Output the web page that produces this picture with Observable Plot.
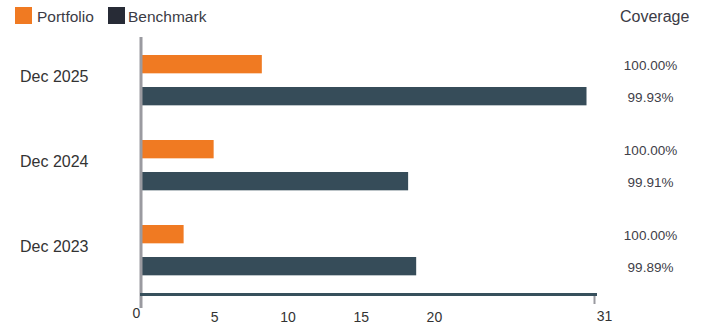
<!DOCTYPE html>
<html><head><meta charset="utf-8">
<script src="https://cdn.jsdelivr.net/npm/d3@7"></script>
<script src="https://cdn.jsdelivr.net/npm/@observablehq/plot@0.6"></script>
<style>
body{margin:0;background:#fff;font-family:"Liberation Sans",Arial,sans-serif;}
#wrap{position:relative;width:707px;height:330px;overflow:hidden;}
#header{position:relative;height:30px;width:707px;}
.sw{position:absolute;top:7px;width:17px;height:17px;}
.lt{position:absolute;top:8px;font-size:15.5px;line-height:18px;color:#3b3b45;white-space:nowrap;}
#chart svg{display:block;}
</style></head><body>
<div id="wrap">
<div id="header"></div>
<div id="chart"></div>
</div>
<script>
const seriesNames = ["Portfolio", "Benchmark"];
const periods = ["Dec 2025", "Dec 2024", "Dec 2023"];
const portfolio = [8.25, 4.96, 2.91];
const benchmark = [30.42, 18.24, 18.79];
const portfolioCoverage = ["100.00%", "100.00%", "100.00%"];
const benchmarkCoverage = ["99.93%", "99.91%", "99.89%"];
const coverageTitle = "Coverage";
const xMax = 31;
const xTicksMid = [5, 10, 15, 20];

const rows = periods.map((p, i) => ({
  period: p, portfolio: portfolio[i], benchmark: benchmark[i],
  pc: portfolioCoverage[i], bc: benchmarkCoverage[i]
}));

// legend + coverage header
const header = document.getElementById("header");
const swatchColors = ["#f07a22", "#272b36"];
const swLeft = [15, 108], txtLeft = [37, 128];
seriesNames.forEach((s, i) => {
  const sw = document.createElement("span");
  sw.className = "sw"; sw.style.left = swLeft[i] + "px"; sw.style.background = swatchColors[i];
  header.appendChild(sw);
  const t = document.createElement("span");
  t.className = "lt"; t.style.left = txtLeft[i] + "px"; t.textContent = s;
  header.appendChild(t);
});
const cov = document.createElement("span");
cov.className = "lt"; cov.style.left = "620px"; cov.style.fontSize = "16px"; cov.textContent = coverageTitle;
header.appendChild(cov);

const chart = Plot.plot({
  width: 707, height: 300,
  marginTop: 7, marginBottom: 36, marginLeft: 141, marginRight: 112,
  style: {fontFamily: "Liberation Sans, Arial, sans-serif", background: "#fff", color: "#333", fontSize: "14px"},
  x: {domain: [0, xMax], axis: null},
  y: {domain: periods, padding: 0, axis: null},
  marks: [
    Plot.barX(rows, {x: "portfolio", y: "period", fill: "#f07a22", insetTop: 17, insetBottom: 49.67}),
    Plot.barX(rows, {x: "benchmark", y: "period", fill: "#364c59", insetTop: 49, insetBottom: 17.67}),
    Plot.ruleX([0], {stroke: "#9a9aa0", strokeWidth: 3, dx: -0.5}),
    Plot.axisY({tickSize: 0, tickPadding: 53, fontSize: 16, dy: -4, fill: "#333", label: null}),
    // tick marks
    Plot.axisX({ticks: [0], tickSize: 14, text: null, label: null, stroke: "#9a9aa0", strokeWidth: 3, dx: -0.5}),
    Plot.axisX({ticks: [xMax], tickSize: 10, text: null, label: null, stroke: "#9a9aa0", strokeWidth: 2, dx: -1}),
    // tick labels
    Plot.axisX({ticks: [0], tickSize: 0, tickPadding: 14, fill: "#333", fontSize: 14, dx: -5, label: null}),
    Plot.axisX({ticks: xTicksMid, tickSize: 0, tickPadding: 18, fill: "#333", fontSize: 14, label: null}),
    Plot.axisX({ticks: [xMax], tickSize: 0, tickPadding: 17, fill: "#333", fontSize: 14, dx: 9, label: null}),
    Plot.frame({anchor: "bottom", stroke: "#37505c", strokeWidth: 3}),
    Plot.text(rows, {y: "period", text: "pc", frameAnchor: "right", textAnchor: "middle", dx: 55, dy: -15, fontSize: 13.5, fill: "#404048"}),
    Plot.text(rows, {y: "period", text: "bc", frameAnchor: "right", textAnchor: "middle", dx: 55, dy: 16.5, fontSize: 13.5, fill: "#404048"})
  ]
});
document.getElementById("chart").appendChild(chart);
</script>
</body></html>
